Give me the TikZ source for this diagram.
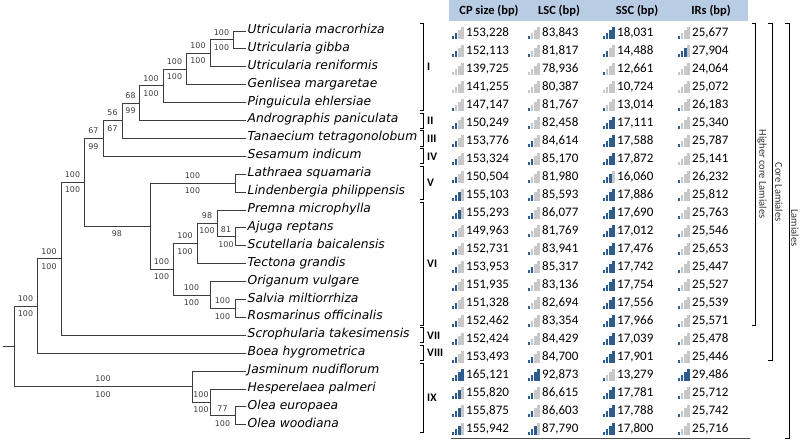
\documentclass[tikz,border=0pt]{standalone}
\usepackage{fontspec}
\setmainfont{DejaVu Sans}[ItalicFont={DejaVu Sans Oblique}]
\newfontfamily\tabfont{Carlito}
\usetikzlibrary{calc}

\definecolor{treegray}{HTML}{3C3C3C}
\definecolor{headBlue}{HTML}{B8CCE4}
\definecolor{barOn}{HTML}{2F5C8F}
\definecolor{barOff}{HTML}{C8C8C8}

% tree rows and table rows
\def\rowA{31}
\def\rowD{17.9}
\def\rowT{33}
\def\rowS{18.0}
\newcommand\ty[1]{{\rowA+\rowD*(#1)}}
% bootstrap values above and below the branch into #2
\newcommand\bsup[4]{\path (#2 -| #1) -- node[lbl,above=3.5pt] (#2u) {#3} node[lbl,below=3.5pt] (#2d) {#4} (#2);}
% one table cell: name, x, y, value, filled bars
\newcommand\iconcell[5]{%
  \foreach \barno in {1,...,4}{%
    \ifnum\barno>#5\relax\def\barcol{barOff}\else\def\barcol{barOn}\fi
    \fill[\barcol] ({#2+(\barno-1)*3.1},{#3+6}) rectangle ++(2.3,{-3.1*\barno});
  }
  \node[num] (#1) at ({#2+14},#3) {#4};
}

\begin{document}
\begin{tikzpicture}[x=1pt,y=-1pt,
    branch/.style={draw=treegray,line width=0.9pt},
    leaf/.style={anchor=west,inner sep=1.5pt,font=\fontsize{12.3}{14}\selectfont\itshape,text height=0.75em,text depth=0.25em},
    lbl/.style={inner sep=1pt,text=treegray,font=\fontsize{7.9}{9}\selectfont},
    num/.style={anchor=west,inner sep=0pt,text height=0.63em,text depth=0pt,font=\tabfont\fontsize{13}{15}\selectfont},
    head/.style={inner sep=0pt,font=\tabfont\bfseries\fontsize{12.5}{14}\selectfont},
    roman/.style={anchor=west,inner sep=0pt,font=\tabfont\bfseries\fontsize{11.5}{13}\selectfont},
    group/.style={rotate=-90,inner sep=0pt,text=black!80,font=\tabfont\fontsize{10.5}{12}\selectfont},
    bracket/.style={line width=0.8pt}]
\useasboundingbox (0,0) rectangle (800,446);

% taxa
\node[leaf] (umac) at (246,\ty{0}) {Utricularia macrorhiza};
\node[leaf] (ugib) at (246,\ty{1}) {Utricularia gibba};
\node[leaf] (uren) at (246,\ty{2}) {Utricularia reniformis};
\node[leaf] (gmar) at (246,\ty{3}) {Genlisea margaretae};
\node[leaf] (pehl) at (246,\ty{4}) {Pinguicula ehlersiae};
\node[leaf] (apan) at (246,\ty{5}) {Andrographis paniculata};
\node[leaf] (ttet) at (246,\ty{6}) {Tanaecium tetragonolobum};
\node[leaf] (sind) at (246,\ty{7}) {Sesamum indicum};
\node[leaf] (lsqu) at (246,\ty{8}) {Lathraea squamaria};
\node[leaf] (lphi) at (246,\ty{9}) {Lindenbergia philippensis};
\node[leaf] (pmic) at (246,\ty{10}) {Premna microphylla};
\node[leaf] (arep) at (246,\ty{11}) {Ajuga reptans};
\node[leaf] (sbai) at (246,\ty{12}) {Scutellaria baicalensis};
\node[leaf] (tgra) at (246,\ty{13}) {Tectona grandis};
\node[leaf] (ovul) at (246,\ty{14}) {Origanum vulgare};
\node[leaf] (smil) at (246,\ty{15}) {Salvia miltiorrhiza};
\node[leaf] (roff) at (246,\ty{16}) {Rosmarinus officinalis};
\node[leaf] (stak) at (246,\ty{17}) {Scrophularia takesimensis};
\node[leaf] (bhyg) at (246,\ty{18}) {Boea hygrometrica};
\node[leaf] (jnud) at (246,\ty{19}) {Jasminum nudiflorum};
\node[leaf] (hpal) at (246,\ty{20}) {Hesperelaea palmeri};
\node[leaf] (oeur) at (246,\ty{21}) {Olea europaea};
\node[leaf] (owoo) at (246,\ty{22}) {Olea woodiana};

% inner nodes
\coordinate (stub) at (3,\ty{17.62});
\coordinate (root) at (14,\ty{17.62});
\coordinate (nA) at (37,\ty{15.364});
\coordinate (nB) at (61,\ty{12.7285});
\coordinate (nC) at (84,\ty{8.457});
\coordinate (nD) at (103,\ty{6.0078});
\coordinate (nE) at (122,\ty{5.0156});
\coordinate (nF) at (139,\ty{4.0313});
\coordinate (nG) at (163,\ty{3.0625});
\coordinate (nH) at (186,\ty{2.125});
\coordinate (nI) at (210,\ty{1.25});
\coordinate (nJ) at (233,\ty{0.5});
\coordinate (nVVI) at (150,\ty{10.906});
\coordinate (nV) at (235,\ty{8.5});
\coordinate (nVI) at (173,\ty{13.3125});
\coordinate (nVIa) at (197,\ty{11.875});
\coordinate (nPAS) at (217,\ty{10.75});
\coordinate (nAS) at (235,\ty{11.5});
\coordinate (nVIb) at (210,\ty{14.75});
\coordinate (nSR) at (235,\ty{15.5});
\coordinate (nO) at (192,\ty{19.875});
\coordinate (nHO) at (210,\ty{20.75});
\coordinate (nOE) at (235,\ty{21.5});

% branches
\draw[branch] (stub) -- (root);
\draw[branch] (root) |- (nA) (root) |- (nO);
\draw[branch] (nA) |- (nB) (nA) |- (bhyg.west);
\draw[branch] (nB) |- (nC) (nB) |- (stak.west);
\draw[branch] (nC) |- (nD) (nC) |- (nVVI);
\draw[branch] (nD) |- (nE) (nD) |- (sind.west);
\draw[branch] (nE) |- (nF) (nE) |- (ttet.west);
\draw[branch] (nF) |- (nG) (nF) |- (apan.west);
\draw[branch] (nG) |- (nH) (nG) |- (pehl.west);
\draw[branch] (nH) |- (nI) (nH) |- (gmar.west);
\draw[branch] (nI) |- (nJ) (nI) |- (uren.west);
\draw[branch] (nJ) |- (umac.west) (nJ) |- (ugib.west);
\draw[branch] (nVVI) |- (nV) (nVVI) |- (nVI);
\draw[branch] (nV) |- (lsqu.west) (nV) |- (lphi.west);
\draw[branch] (nVI) |- (nVIa) (nVI) |- (nVIb);
\draw[branch] (nVIa) |- (nPAS) (nVIa) |- (tgra.west);
\draw[branch] (nPAS) |- (pmic.west) (nPAS) |- (nAS);
\draw[branch] (nAS) |- (arep.west) (nAS) |- (sbai.west);
\draw[branch] (nVIb) |- (ovul.west) (nVIb) |- (nSR);
\draw[branch] (nSR) |- (smil.west) (nSR) |- (roff.west);
\draw[branch] (nO) |- (jnud.west) (nO) |- (nHO);
\draw[branch] (nHO) |- (hpal.west) (nHO) |- (nOE);
\draw[branch] (nOE) |- (oeur.west) (nOE) |- (owoo.west);

% support values
\bsup{root}{nA}{100}{100}
\bsup{nA}{nB}{100}{100}
\bsup{nB}{nC}{100}{100}
\bsup{nC}{nD}{67}{99}
\bsup{nD}{nE}{56}{67}
\bsup{nE}{nF}{68}{99}
\bsup{nF}{nG}{100}{100}
\bsup{nG}{nH}{100}{100}
\bsup{nH}{nI}{100}{100}
\bsup{nI}{nJ}{100}{100}
\path (nVVI -| nC) -- node[lbl,below=3.5pt] (nVVId) {98} (nVVI);
\bsup{nVVI}{nV}{100}{100}
\bsup{nVVI}{nVI}{100}{100}
\bsup{nVI}{nVIa}{100}{100}
\bsup{nVIa}{nPAS}{98}{100}
\bsup{nPAS}{nAS}{81}{100}
\bsup{nVI}{nVIb}{100}{100}
\bsup{nVIb}{nSR}{100}{100}
\bsup{root}{nO}{100}{100}
\bsup{nO}{nHO}{100}{100}
\bsup{nHO}{nOE}{77}{100}

% clades I-IX
\draw[bracket] (420,\ty{-0.42}) -- (423,\ty{-0.42}) -- (423,\ty{4.42}) -- (420,\ty{4.42});
\node[roman] (cI) at (427,\ty{2}) {I};
\draw[bracket] (420,\ty{4.58}) -- (423,\ty{4.58}) -- (423,\ty{5.42}) -- (420,\ty{5.42});
\node[roman] (cII) at (427,\ty{5}) {II};
\draw[bracket] (420,\ty{5.58}) -- (423,\ty{5.58}) -- (423,\ty{6.42}) -- (420,\ty{6.42});
\node[roman] (cIII) at (427,\ty{6}) {III};
\draw[bracket] (420,\ty{6.58}) -- (423,\ty{6.58}) -- (423,\ty{7.42}) -- (420,\ty{7.42});
\node[roman] (cIV) at (427,\ty{7}) {IV};
\draw[bracket] (420,\ty{7.58}) -- (423,\ty{7.58}) -- (423,\ty{9.42}) -- (420,\ty{9.42});
\node[roman] (cV) at (427,\ty{8.5}) {V};
\draw[bracket] (420,\ty{9.58}) -- (423,\ty{9.58}) -- (423,\ty{16.42}) -- (420,\ty{16.42});
\node[roman] (cVI) at (427,\ty{13}) {VI};
\draw[bracket] (420,\ty{16.58}) -- (423,\ty{16.58}) -- (423,\ty{17.42}) -- (420,\ty{17.42});
\node[roman] (cVII) at (427,\ty{17}) {VII};
\draw[bracket] (420,\ty{17.58}) -- (423,\ty{17.58}) -- (423,\ty{18.42}) -- (420,\ty{18.42});
\node[roman] (cVIII) at (427,\ty{18}) {VIII};
\draw[bracket] (420,\ty{18.58}) -- (423,\ty{18.58}) -- (423,\ty{22.42}) -- (420,\ty{22.42});
\node[roman] (cIX) at (427,\ty{20.5}) {IX};

% table head
\fill[headBlue] (449,0) rectangle (748,21);
\node[head] (hcp) at (489,11) {CP size (bp)};
\node[head] (hlsc) at (559,11) {LSC (bp)};
\node[head] (hssc) at (637,11) {SSC (bp)};
\node[head] (hir) at (711,11) {IRs (bp)};

% table rows
\foreach \rw/\cpv/\cpn/\lscv/\lscn/\sscv/\sscn/\irv/\irn in {
  0/{153,228}/2/{83,843}/1/{18,031}/4/{25,677}/1,
  1/{152,113}/2/{81,817}/1/{14,488}/2/{27,904}/3,
  2/{139,725}/0/{78,936}/0/{12,661}/1/{24,064}/0,
  3/{141,255}/0/{80,387}/0/{10,724}/0/{25,072}/0,
  4/{147,147}/1/{81,767}/1/{13,014}/1/{26,183}/1,
  5/{150,249}/2/{82,458}/1/{17,111}/4/{25,340}/1,
  6/{153,776}/2/{84,614}/2/{17,588}/4/{25,787}/1,
  7/{153,324}/2/{85,170}/2/{17,872}/4/{25,141}/0,
  8/{150,504}/2/{81,980}/1/{16,060}/3/{26,232}/1,
  9/{155,103}/3/{85,593}/2/{17,886}/4/{25,812}/1,
  10/{155,293}/3/{86,077}/2/{17,690}/4/{25,763}/1,
  11/{149,963}/2/{81,769}/1/{17,012}/4/{25,546}/1,
  12/{152,731}/2/{83,941}/1/{17,476}/4/{25,653}/1,
  13/{153,953}/2/{85,317}/2/{17,742}/4/{25,447}/1,
  14/{151,935}/2/{83,136}/1/{17,754}/4/{25,527}/1,
  15/{151,328}/2/{82,694}/1/{17,556}/4/{25,539}/1,
  16/{152,462}/2/{83,354}/1/{17,966}/4/{25,571}/1,
  17/{152,424}/2/{84,429}/1/{17,039}/4/{25,478}/1,
  18/{153,493}/2/{84,700}/2/{17,901}/4/{25,446}/1,
  19/{165,121}/4/{92,873}/4/{13,279}/1/{29,486}/4,
  20/{155,820}/3/{86,615}/2/{17,781}/4/{25,712}/1,
  21/{155,875}/3/{86,603}/2/{17,788}/4/{25,742}/1,
  22/{155,942}/3/{87,790}/3/{17,800}/4/{25,716}/1}{
  \pgfmathsetmacro\ry{\rowT+\rowS*\rw}
  \iconcell{cp\rw}{452}{\ry}{\cpv}{\cpn}
  \iconcell{lsc\rw}{528}{\ry}{\lscv}{\lscn}
  \iconcell{ssc\rw}{603}{\ry}{\sscv}{\sscn}
  \iconcell{ir\rw}{678}{\ry}{\irv}{\irn}
}
\draw[gray!60!black,line width=0.7pt] (451,438) -- (750,438);

% groups
\draw[bracket] (752,\ty{-0.42}) -- (755,\ty{-0.42}) -- (755,\ty{16.42}) -- (752,\ty{16.42});
\node[group] (hcl) at (762,\ty{8}) {Higher core Lamiales};
\draw[bracket] (768,\ty{-0.42}) -- (772,\ty{-0.42}) -- (772,\ty{18.42}) -- (768,\ty{18.42});
\node[group] (cl) at (779,\ty{9}) {Core Lamiales};
\draw[bracket] (785,\ty{-0.42}) -- (789,\ty{-0.42}) -- (789,438) -- (785,438);
\node[group] (lam) at (795,228) {Lamiales};
\end{tikzpicture}
\end{document}
